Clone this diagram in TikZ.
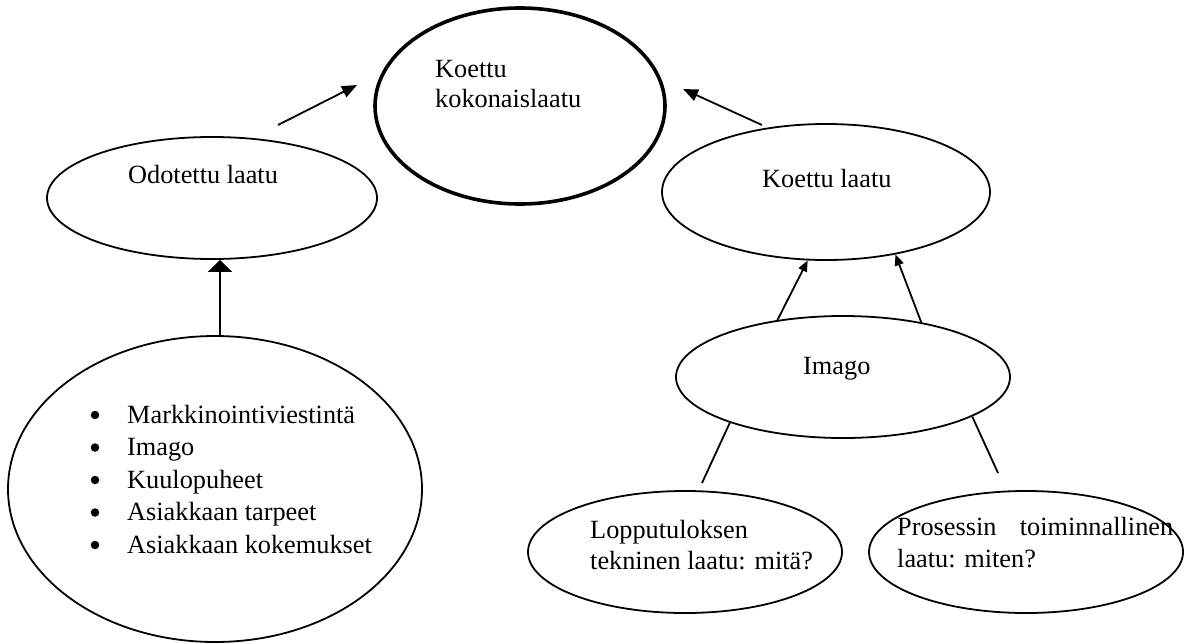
\documentclass[tikz,border=0pt]{standalone}
\usepackage{fontspec}
\setmainfont{Liberation Serif}
\usetikzlibrary{shapes.geometric,arrows.meta}
\begin{document}
\begin{tikzpicture}[x=1pt,y=-1pt,
  oval/.style={draw,ellipse,line width=1.8pt,inner sep=0pt},
  txt/.style={anchor=base west,inner sep=0pt,font=\fontsize{26.3}{31}\selectfont},
  bulletdot/.style={circle,fill,inner sep=0pt,minimum size=8.5pt},
  conn/.style={line width=1.8pt},
  arr/.style={line width=1.8pt,-{Triangle[length=15pt,width=12pt]}},
  arrwide/.style={line width=1.8pt,-{Triangle[length=12pt,width=24pt]}},
  arrsmall/.style={line width=1.8pt,-{Triangle[length=11pt,width=9pt]}}]
\useasboundingbox (0,0) rectangle (1191,643);

% ellipses
\node[oval,line width=3.6pt,minimum width=290pt,minimum height=196pt] (total) at (520,106) {};
\node[oval,minimum width=330pt,minimum height=122pt] (expq) at (212,198) {};
\node[oval,minimum width=414pt,minimum height=306pt] (src) at (215,489) {};
\node[oval,minimum width=328pt,minimum height=136pt] (experq) at (826,192) {};
\node[oval,minimum width=334pt,minimum height=122pt] (imago) at (843,377) {};
\node[oval,minimum width=314pt,minimum height=122pt] (tech) at (685,552) {};
\node[oval,minimum width=314pt,minimum height=122pt] (func) at (1026,552) {};

% texts
\node[txt] (t1a) at (435,77) {Koettu};
\node[txt] (t1b) at (435,107) {kokonaislaatu};
\node[txt] (t2) at (128,183) {Odotettu laatu};
\node[txt] (t3) at (762,187) {Koettu laatu};
\node[txt] (t4) at (803,374) {Imago};
\node[txt] (t5a) at (590,538) {Lopputuloksen};
\node[txt] (t5b) at (590,569) {tekninen laatu: mitä?};
\node[txt] (t6a) at (897,535) {\makebox[276pt][s]{Prosessin toiminnallinen}};
\node[txt] (t6b) at (897,567) {laatu: miten?};

% bullet list
\foreach \t [count=\i from 0] in {Markkinointiviestintä,Imago,Kuulopuheet,Asiakkaan tarpeet,Asiakkaan kokemukset}{
  \node[bulletdot] (b\i) at (95,{415+32.5*\i}) {};
  \node[txt] (l\i) at (127,{423+32.5*\i}) {\t};
}

% connectors
\coordinate (a1s) at (278,125);
\coordinate (a1e) at (357,85);
\coordinate (a2s) at (762,125);
\coordinate (a2e) at (683,89);
\draw[arr] (a1s) -- (a1e);
\draw[arr] (a2s) -- (a2e);
\draw[arrwide] ([xshift=5pt]src.north) -- ([xshift=5pt]src.north |- expq.south);
\draw[arrsmall] (imago.139) -- (experq.255);
\draw[arrsmall] (imago.35) -- (experq.-42);
\coordinate (c1) at (702,483);
\coordinate (c2) at (998,473);
\draw[conn] (imago.202) -- (c1);
\draw[conn] (imago.-17) -- (c2);
\end{tikzpicture}
\end{document}
